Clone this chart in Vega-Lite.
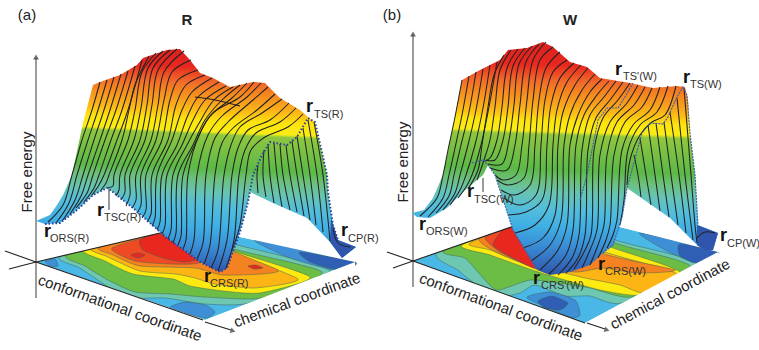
{"$schema":"https://vega.github.io/schema/vega-lite/v6.json","width":759,"height":350,"padding":0,"autosize":{"type":"none"},"background":"white","view":{"stroke":null},
"config":{"text":{"font":"Liberation Sans"}},
"encoding":{"x":{"field":"x","type":"quantitative","scale":{"domain":[0,759],"nice":false,"zero":false},"axis":null},"y":{"field":"y","type":"quantitative","scale":{"domain":[350,0],"nice":false,"zero":false},"axis":null}},
"datasets":{
"floor":[
{"s":"a0","c":"cyan","x":36,"y":262},{"s":"a0","c":"cyan","x":189,"y":226},{"s":"a0","c":"cyan","x":355,"y":262},{"s":"a0","c":"cyan","x":205,"y":320},
{"s":"a1","c":"teal","x":62,"y":256},{"s":"a1","c":"teal","x":189,"y":226},{"s":"a1","c":"teal","x":230,"y":243},{"s":"a1","c":"teal","x":330,"y":271},{"s":"a1","c":"teal","x":250,"y":303},{"s":"a1","c":"teal","x":205,"y":304},{"s":"a1","c":"teal","x":165,"y":298},{"s":"a1","c":"teal","x":130,"y":298},{"s":"a1","c":"teal","x":110,"y":288},{"s":"a1","c":"teal","x":80,"y":268},
{"s":"a2","c":"green","x":68,"y":254},{"s":"a2","c":"green","x":189,"y":226},{"s":"a2","c":"green","x":226,"y":247},{"s":"a2","c":"green","x":322,"y":272},{"s":"a2","c":"green","x":262,"y":298},{"s":"a2","c":"green","x":205,"y":297},{"s":"a2","c":"green","x":170,"y":294},{"s":"a2","c":"green","x":135,"y":292},{"s":"a2","c":"green","x":108,"y":280},{"s":"a2","c":"green","x":85,"y":266},
{"s":"a3","c":"yellow","x":85,"y":249},{"s":"a3","c":"yellow","x":189,"y":226},{"s":"a3","c":"yellow","x":225,"y":248},{"s":"a3","c":"yellow","x":310,"y":277},{"s":"a3","c":"yellow","x":260,"y":293},{"s":"a3","c":"yellow","x":223,"y":291},{"s":"a3","c":"yellow","x":190,"y":286},{"s":"a3","c":"yellow","x":173,"y":279},{"s":"a3","c":"yellow","x":133,"y":274},{"s":"a3","c":"yellow","x":105,"y":261},
{"s":"a4","c":"amber","x":92,"y":247},{"s":"a4","c":"amber","x":189,"y":226},{"s":"a4","c":"amber","x":225,"y":250},{"s":"a4","c":"amber","x":298,"y":279},{"s":"a4","c":"amber","x":255,"y":288},{"s":"a4","c":"amber","x":215,"y":284},{"s":"a4","c":"amber","x":195,"y":278},{"s":"a4","c":"amber","x":175,"y":274},{"s":"a4","c":"amber","x":140,"y":271},{"s":"a4","c":"amber","x":108,"y":257},
{"s":"a5","c":"orange","x":100,"y":247},{"s":"a5","c":"orange","x":189,"y":226},{"s":"a5","c":"orange","x":230,"y":250},{"s":"a5","c":"orange","x":278,"y":270},{"s":"a5","c":"orange","x":262,"y":274},{"s":"a5","c":"orange","x":222,"y":275},{"s":"a5","c":"orange","x":195,"y":268},{"s":"a5","c":"orange","x":140,"y":266},{"s":"a5","c":"orange","x":113,"y":255},
{"s":"a6","c":"redorange","x":112,"y":248},{"s":"a6","c":"redorange","x":170,"y":233},{"s":"a6","c":"redorange","x":200,"y":262},{"s":"a6","c":"redorange","x":170,"y":264},{"s":"a6","c":"redorange","x":135,"y":261},
{"s":"a7","c":"red","x":140,"y":240},{"s":"a7","c":"red","x":160,"y":234},{"s":"a7","c":"red","x":197,"y":258},{"s":"a7","c":"red","x":183,"y":262},{"s":"a7","c":"red","x":163,"y":258},{"s":"a7","c":"red","x":143,"y":250},
{"s":"a8","c":"red","x":131,"y":255},{"s":"a8","c":"red","x":138,"y":253},{"s":"a8","c":"red","x":145,"y":255},{"s":"a8","c":"red","x":138,"y":258},
{"s":"a9","c":"red","x":248,"y":266},{"s":"a9","c":"red","x":256,"y":265},{"s":"a9","c":"red","x":263,"y":268},{"s":"a9","c":"red","x":254,"y":269},
{"s":"a10","c":"blue","x":170,"y":308},{"s":"a10","c":"blue","x":185,"y":302},{"s":"a10","c":"blue","x":205,"y":305},{"s":"a10","c":"blue","x":215,"y":312},{"s":"a10","c":"blue","x":205,"y":318},
{"s":"a11","c":"blue","x":255,"y":240},{"s":"a11","c":"blue","x":355,"y":262},{"s":"a11","c":"blue","x":335,"y":270},{"s":"a11","c":"blue","x":290,"y":258},
{"s":"a12","c":"navy","x":300,"y":252},{"s":"a12","c":"navy","x":355,"y":262},{"s":"a12","c":"navy","x":335,"y":269},{"s":"a12","c":"navy","x":310,"y":262},
{"s":"a13","c":"blue","x":45,"y":261},{"s":"a13","c":"blue","x":55,"y":259},{"s":"a13","c":"blue","x":58,"y":266},{"s":"a13","c":"blue","x":50,"y":266},
{"s":"b0","c":"cyan","x":413,"y":261},{"s":"b0","c":"cyan","x":557,"y":211},{"s":"b0","c":"cyan","x":718,"y":252},{"s":"b0","c":"cyan","x":697,"y":263},{"s":"b0","c":"cyan","x":585,"y":323},
{"s":"b1","c":"teal","x":438,"y":252},{"s":"b1","c":"teal","x":557,"y":211},{"s":"b1","c":"teal","x":615,"y":240},{"s":"b1","c":"teal","x":697,"y":264},{"s":"b1","c":"teal","x":622,"y":303},{"s":"b1","c":"teal","x":590,"y":296},{"s":"b1","c":"teal","x":565,"y":296},{"s":"b1","c":"teal","x":535,"y":285},{"s":"b1","c":"teal","x":520,"y":293},{"s":"b1","c":"teal","x":495,"y":297},{"s":"b1","c":"teal","x":470,"y":280},{"s":"b1","c":"teal","x":458,"y":270},
{"s":"b2","c":"green","x":445,"y":250},{"s":"b2","c":"green","x":557,"y":211},{"s":"b2","c":"green","x":612,"y":242},{"s":"b2","c":"green","x":690,"y":266},{"s":"b2","c":"green","x":632,"y":297},{"s":"b2","c":"green","x":590,"y":288},{"s":"b2","c":"green","x":565,"y":284},{"s":"b2","c":"green","x":530,"y":280},{"s":"b2","c":"green","x":497,"y":290},{"s":"b2","c":"green","x":478,"y":272},{"s":"b2","c":"green","x":465,"y":258},
{"s":"b3","c":"yellow","x":462,"y":245},{"s":"b3","c":"yellow","x":545,"y":215},{"s":"b3","c":"yellow","x":605,"y":245},{"s":"b3","c":"yellow","x":680,"y":272},{"s":"b3","c":"yellow","x":640,"y":295},{"s":"b3","c":"yellow","x":600,"y":290},{"s":"b3","c":"yellow","x":565,"y":280},{"s":"b3","c":"yellow","x":535,"y":271},{"s":"b3","c":"yellow","x":490,"y":255},
{"s":"b4","c":"amber","x":470,"y":243},{"s":"b4","c":"amber","x":548,"y":215},{"s":"b4","c":"amber","x":600,"y":250},{"s":"b4","c":"amber","x":677,"y":274},{"s":"b4","c":"amber","x":645,"y":293},{"s":"b4","c":"amber","x":620,"y":285},{"s":"b4","c":"amber","x":585,"y":278},{"s":"b4","c":"amber","x":560,"y":272},{"s":"b4","c":"amber","x":537,"y":268},{"s":"b4","c":"amber","x":490,"y":250},
{"s":"b5","c":"orange","x":480,"y":238},{"s":"b5","c":"orange","x":550,"y":215},{"s":"b5","c":"orange","x":598,"y":252},{"s":"b5","c":"orange","x":675,"y":270},{"s":"b5","c":"orange","x":637,"y":273},{"s":"b5","c":"orange","x":603,"y":268},{"s":"b5","c":"orange","x":577,"y":272},{"s":"b5","c":"orange","x":537,"y":268},{"s":"b5","c":"orange","x":500,"y":254},
{"s":"b6","c":"redorange","x":485,"y":238},{"s":"b6","c":"redorange","x":503,"y":230},{"s":"b6","c":"redorange","x":537,"y":268},{"s":"b6","c":"redorange","x":500,"y":252},
{"s":"b7","c":"red","x":503,"y":230},{"s":"b7","c":"red","x":517,"y":225},{"s":"b7","c":"red","x":537,"y":268},{"s":"b7","c":"red","x":513,"y":258},{"s":"b7","c":"red","x":493,"y":245},
{"s":"b8","c":"blue","x":527,"y":298},{"s":"b8","c":"blue","x":550,"y":292},{"s":"b8","c":"blue","x":575,"y":300},{"s":"b8","c":"blue","x":580,"y":315},{"s":"b8","c":"blue","x":570,"y":317},
{"s":"b9","c":"navy","x":538,"y":301},{"s":"b9","c":"navy","x":552,"y":296},{"s":"b9","c":"navy","x":568,"y":303},{"s":"b9","c":"navy","x":560,"y":310},{"s":"b9","c":"navy","x":545,"y":308},
{"s":"b10","c":"blue","x":640,"y":233},{"s":"b10","c":"blue","x":718,"y":252},{"s":"b10","c":"blue","x":697,"y":263},{"s":"b10","c":"blue","x":665,"y":250},
{"s":"b11","c":"navy","x":680,"y":244},{"s":"b11","c":"navy","x":718,"y":252},{"s":"b11","c":"navy","x":697,"y":263},{"s":"b11","c":"navy","x":680,"y":256}
],
"mask":[
{"s":"m1","x":36,"y":262},{"s":"m1","x":189,"y":226},{"s":"m1","x":189,"y":214},{"s":"m1","x":36,"y":250},
{"s":"m2","x":189,"y":226},{"s":"m2","x":355,"y":262},{"s":"m2","x":355,"y":250},{"s":"m2","x":189,"y":214},
{"s":"m3","x":36,"y":262},{"s":"m3","x":205,"y":320},{"s":"m3","x":205,"y":332},{"s":"m3","x":36,"y":274},
{"s":"m4","x":205,"y":320},{"s":"m4","x":355,"y":262},{"s":"m4","x":355,"y":274},{"s":"m4","x":205,"y":332},
{"s":"m5","x":413,"y":261},{"s":"m5","x":557,"y":211},{"s":"m5","x":557,"y":199},{"s":"m5","x":413,"y":249},
{"s":"m6","x":557,"y":211},{"s":"m6","x":718,"y":252},{"s":"m6","x":718,"y":240},{"s":"m6","x":557,"y":199},
{"s":"m7","x":413,"y":261},{"s":"m7","x":585,"y":323},{"s":"m7","x":585,"y":335},{"s":"m7","x":413,"y":273},
{"s":"m8","x":585,"y":323},{"s":"m8","x":697,"y":263},{"s":"m8","x":718,"y":252},{"s":"m8","x":725,"y":262},{"s":"m8","x":590,"y":335}
],
"patch":[
{"s":"a","x":331,"y":218},{"s":"a","x":338,"y":240},{"s":"a","x":356,"y":247},{"s":"a","x":342,"y":258},{"s":"a","x":330,"y":242},
{"s":"b","x":697,"y":225},{"s":"b","x":718,"y":233},{"s":"b","x":713,"y":250},{"s":"b","x":705,"y":251},{"s":"b","x":697,"y":245}
],
"surfA":[{"x":36,"y":221},{"x":50,"y":215},{"x":57,"y":205},{"x":63,"y":195},{"x":72,"y":175},{"x":83,"y":123},{"x":93,"y":85},{"x":100,"y":82},{"x":120,"y":75},{"x":137,"y":65},{"x":143,"y":58},{"x":167,"y":50},{"x":180,"y":49},{"x":190,"y":60},{"x":200,"y":73},{"x":213,"y":78},{"x":230,"y":87},{"x":253,"y":82},{"x":265,"y":83},{"x":280,"y":98},{"x":300,"y":110},{"x":308,"y":117},{"x":315,"y":122},{"x":323,"y":157},{"x":327,"y":175},{"x":328,"y":192},{"x":333,"y":225},{"x":338,"y":240},{"x":356,"y":247},{"x":342,"y":258},{"x":330,"y":242},{"x":307,"y":218},{"x":273,"y":203},{"x":250,"y":192},{"x":248,"y":202},{"x":240,"y":232},{"x":227,"y":268},{"x":220,"y":272},{"x":212,"y":268},{"x":200,"y":262},{"x":167,"y":238},{"x":133,"y":208},{"x":113,"y":192},{"x":107,"y":188},{"x":93,"y":195},{"x":77,"y":210},{"x":60,"y":223},{"x":45,"y":224}],
"surfB":[{"x":412,"y":213},{"x":424,"y":210},{"x":433,"y":198},{"x":443,"y":175},{"x":455,"y":117},{"x":462,"y":80},{"x":480,"y":70},{"x":500,"y":60},{"x":508,"y":50},{"x":527,"y":48},{"x":543,"y":42},{"x":553,"y":47},{"x":570,"y":62},{"x":587,"y":67},{"x":600,"y":78},{"x":630,"y":83},{"x":653,"y":88},{"x":677,"y":86},{"x":685,"y":87},{"x":688,"y":100},{"x":690,"y":133},{"x":695,"y":175},{"x":698,"y":225},{"x":718,"y":233},{"x":713,"y":250},{"x":705,"y":251},{"x":697,"y":245},{"x":670,"y":218},{"x":627,"y":188},{"x":622,"y":218},{"x":613,"y":245},{"x":603,"y":253},{"x":590,"y":265},{"x":570,"y":272},{"x":550,"y":275},{"x":537,"y":270},{"x":513,"y":230},{"x":495,"y":175},{"x":488,"y":165},{"x":483,"y":175},{"x":463,"y":192},{"x":447,"y":208},{"x":430,"y":218},{"x":417,"y":217}],
"slices":[
{"s":"a0","x":100,"y":82},{"s":"a0","x":92,"y":110},{"s":"a0","x":82,"y":140},{"s":"a0","x":72,"y":175},{"s":"a0","x":63,"y":205},{"s":"a0","x":48,"y":222},
{"s":"a1","x":107,"y":80},{"s":"a1","x":98,"y":110},{"s":"a1","x":88,"y":140},{"s":"a1","x":77,"y":175},{"s":"a1","x":69,"y":203},{"s":"a1","x":56,"y":223},
{"s":"a2","x":114,"y":77},{"s":"a2","x":104,"y":110},{"s":"a2","x":94,"y":140},{"s":"a2","x":83,"y":175},{"s":"a2","x":75,"y":200},{"s":"a2","x":63,"y":220},
{"s":"a3","x":121,"y":74},{"s":"a3","x":110,"y":110},{"s":"a3","x":100,"y":140},{"s":"a3","x":88,"y":175},{"s":"a3","x":81,"y":196},{"s":"a3","x":70,"y":214},
{"s":"a4","x":128,"y":71},{"s":"a4","x":116,"y":110},{"s":"a4","x":105,"y":140},{"s":"a4","x":93,"y":175},{"s":"a4","x":87,"y":193},{"s":"a4","x":76,"y":208},
{"s":"a5","x":135,"y":66},{"s":"a5","x":122,"y":110},{"s":"a5","x":111,"y":140},{"s":"a5","x":99,"y":175},{"s":"a5","x":94,"y":188},{"s":"a5","x":84,"y":202},
{"s":"a6","x":142,"y":60},{"s":"a6","x":128,"y":110},{"s":"a6","x":117,"y":140},{"s":"a6","x":104,"y":175},{"s":"a6","x":99,"y":185},{"s":"a6","x":92,"y":195},
{"s":"a7","x":149,"y":56},{"s":"a7","x":135,"y":85},{"s":"a7","x":129,"y":110},{"s":"a7","x":122,"y":140},{"s":"a7","x":109,"y":175},{"s":"a7","x":106,"y":183},{"s":"a7","x":101,"y":190},
{"s":"a8","x":156,"y":53},{"s":"a8","x":142,"y":72},{"s":"a8","x":135,"y":110},{"s":"a8","x":128,"y":140},{"s":"a8","x":114,"y":175},{"s":"a8","x":113,"y":186},{"s":"a8","x":108,"y":188},
{"s":"a9","x":163,"y":51},{"s":"a9","x":148,"y":68},{"s":"a9","x":141,"y":108},{"s":"a9","x":134,"y":140},{"s":"a9","x":120,"y":175},{"s":"a9","x":119,"y":190},{"s":"a9","x":116,"y":196},
{"s":"a10","x":170,"y":50},{"s":"a10","x":153,"y":68},{"s":"a10","x":147,"y":105},{"s":"a10","x":140,"y":140},{"s":"a10","x":125,"y":175},{"s":"a10","x":125,"y":192},{"s":"a10","x":121,"y":200},
{"s":"a11","x":177,"y":49},{"s":"a11","x":158,"y":70},{"s":"a11","x":152,"y":105},{"s":"a11","x":145,"y":140},{"s":"a11","x":130,"y":175},{"s":"a11","x":130,"y":195},{"s":"a11","x":126,"y":206},
{"s":"a12","x":184,"y":51},{"s":"a12","x":164,"y":72},{"s":"a12","x":158,"y":105},{"s":"a12","x":151,"y":140},{"s":"a12","x":136,"y":175},{"s":"a12","x":136,"y":200},{"s":"a12","x":132,"y":208},
{"s":"a13","x":191,"y":60},{"s":"a13","x":172,"y":72},{"s":"a13","x":164,"y":100},{"s":"a13","x":156,"y":140},{"s":"a13","x":141,"y":175},{"s":"a13","x":141,"y":205},{"s":"a13","x":137,"y":213},
{"s":"a14","x":198,"y":70},{"s":"a14","x":178,"y":80},{"s":"a14","x":170,"y":100},{"s":"a14","x":162,"y":140},{"s":"a14","x":146,"y":175},{"s":"a14","x":146,"y":210},{"s":"a14","x":142,"y":218},
{"s":"a15","x":205,"y":75},{"s":"a15","x":186,"y":85},{"s":"a15","x":176,"y":105},{"s":"a15","x":168,"y":140},{"s":"a15","x":152,"y":175},{"s":"a15","x":151,"y":214},{"s":"a15","x":147,"y":222},
{"s":"a16","x":212,"y":78},{"s":"a16","x":192,"y":92},{"s":"a16","x":182,"y":110},{"s":"a16","x":172,"y":140},{"s":"a16","x":157,"y":175},{"s":"a16","x":155,"y":218},{"s":"a16","x":152,"y":226},
{"s":"a17","x":219,"y":82},{"s":"a17","x":198,"y":97},{"s":"a17","x":188,"y":115},{"s":"a17","x":177,"y":145},{"s":"a17","x":162,"y":175},{"s":"a17","x":160,"y":222},{"s":"a17","x":157,"y":230},
{"s":"a18","x":226,"y":86},{"s":"a18","x":205,"y":100},{"s":"a18","x":193,"y":120},{"s":"a18","x":182,"y":145},{"s":"a18","x":167,"y":175},{"s":"a18","x":165,"y":226},{"s":"a18","x":162,"y":234},
{"s":"a19","x":233,"y":87},{"s":"a19","x":214,"y":100},{"s":"a19","x":198,"y":125},{"s":"a19","x":187,"y":145},{"s":"a19","x":173,"y":175},{"s":"a19","x":171,"y":230},{"s":"a19","x":168,"y":239},
{"s":"a20","x":240,"y":85},{"s":"a20","x":222,"y":100},{"s":"a20","x":205,"y":120},{"s":"a20","x":193,"y":145},{"s":"a20","x":178,"y":175},{"s":"a20","x":176,"y":233},{"s":"a20","x":173,"y":243},
{"s":"a21","x":247,"y":83},{"s":"a21","x":232,"y":98},{"s":"a21","x":210,"y":116},{"s":"a21","x":197,"y":140},{"s":"a21","x":183,"y":175},{"s":"a21","x":181,"y":236},{"s":"a21","x":178,"y":245},
{"s":"a22","x":254,"y":82},{"s":"a22","x":240,"y":97},{"s":"a22","x":213,"y":113},{"s":"a22","x":200,"y":133},{"s":"a22","x":188,"y":175},{"s":"a22","x":186,"y":240},{"s":"a22","x":183,"y":249},
{"s":"a23","x":261,"y":83},{"s":"a23","x":247,"y":97},{"s":"a23","x":222,"y":116},{"s":"a23","x":208,"y":135},{"s":"a23","x":197,"y":175},{"s":"a23","x":194,"y":240},{"s":"a23","x":190,"y":254},
{"s":"a24","x":268,"y":87},{"s":"a24","x":253,"y":100},{"s":"a24","x":228,"y":122},{"s":"a24","x":215,"y":138},{"s":"a24","x":206,"y":175},{"s":"a24","x":203,"y":243},{"s":"a24","x":197,"y":259},
{"s":"a25","x":275,"y":94},{"s":"a25","x":257,"y":110},{"s":"a25","x":233,"y":128},{"s":"a25","x":222,"y":143},{"s":"a25","x":215,"y":175},{"s":"a25","x":210,"y":245},{"s":"a25","x":204,"y":264},
{"s":"a26","x":282,"y":99},{"s":"a26","x":262,"y":113},{"s":"a26","x":240,"y":127},{"s":"a26","x":231,"y":145},{"s":"a26","x":224,"y":175},{"s":"a26","x":218,"y":250},{"s":"a26","x":211,"y":268},
{"s":"a27","x":289,"y":103},{"s":"a27","x":270,"y":120},{"s":"a27","x":248,"y":130},{"s":"a27","x":238,"y":148},{"s":"a27","x":232,"y":175},{"s":"a27","x":227,"y":240},{"s":"a27","x":218,"y":271},
{"s":"a28","x":296,"y":108},{"s":"a28","x":280,"y":122},{"s":"a28","x":256,"y":133},{"s":"a28","x":245,"y":150},{"s":"a28","x":239,"y":175},{"s":"a28","x":234,"y":240},{"s":"a28","x":226,"y":268},
{"s":"a29","x":303,"y":114},{"s":"a29","x":288,"y":127},{"s":"a29","x":265,"y":137},{"s":"a29","x":251,"y":150},{"s":"a29","x":246,"y":175},{"s":"a29","x":240,"y":225},{"s":"a29","x":232,"y":250},
{"s":"ac","x":195,"y":97},{"s":"ac","x":215,"y":100},{"s":"ac","x":240,"y":106},
{"s":"aw1","x":258,"y":165},{"s":"aw1","x":257,"y":175},{"s":"aw1","x":258,"y":193},
{"s":"aw2","x":264,"y":150},{"s":"aw2","x":263,"y":175},{"s":"aw2","x":266,"y":197},
{"s":"aw3","x":268,"y":144},{"s":"aw3","x":270,"y":175},{"s":"aw3","x":274,"y":203},
{"s":"aw4","x":274,"y":143},{"s":"aw4","x":277,"y":175},{"s":"aw4","x":282,"y":207},
{"s":"aw5","x":280,"y":144},{"s":"aw5","x":283,"y":175},{"s":"aw5","x":290,"y":210},
{"s":"aw6","x":286,"y":145},{"s":"aw6","x":290,"y":175},{"s":"aw6","x":297,"y":212},
{"s":"aw7","x":292,"y":141},{"s":"aw7","x":297,"y":175},{"s":"aw7","x":304,"y":216},
{"s":"aw8","x":297,"y":136},{"s":"aw8","x":303,"y":175},{"s":"aw8","x":310,"y":220},
{"s":"aw9","x":303,"y":128},{"s":"aw9","x":310,"y":175},{"s":"aw9","x":316,"y":225},
{"s":"aw10","x":308,"y":120},{"s":"aw10","x":317,"y":175},{"s":"aw10","x":323,"y":232},
{"s":"aw11","x":314,"y":122},{"s":"aw11","x":323,"y":175},{"s":"aw11","x":330,"y":241},
{"s":"aw12","x":333,"y":228},{"s":"aw12","x":338,"y":243},{"s":"aw12","x":350,"y":247},
{"s":"b0","x":462,"y":80},{"s":"b0","x":455,"y":117},{"s":"b0","x":448,"y":150},{"s":"b0","x":443,"y":175},{"s":"b0","x":437,"y":198},{"s":"b0","x":420,"y":216},
{"s":"b1","x":469,"y":76},{"s":"b1","x":462,"y":115},{"s":"b1","x":455,"y":148},{"s":"b1","x":449,"y":175},{"s":"b1","x":443,"y":198},{"s":"b1","x":428,"y":217},
{"s":"b2","x":476,"y":72},{"s":"b2","x":469,"y":112},{"s":"b2","x":461,"y":145},{"s":"b2","x":454,"y":175},{"s":"b2","x":449,"y":196},{"s":"b2","x":436,"y":213},
{"s":"b3","x":483,"y":69},{"s":"b3","x":476,"y":110},{"s":"b3","x":468,"y":145},{"s":"b3","x":460,"y":175},{"s":"b3","x":455,"y":193},{"s":"b3","x":443,"y":210},
{"s":"b4","x":490,"y":65},{"s":"b4","x":483,"y":108},{"s":"b4","x":475,"y":145},{"s":"b4","x":466,"y":175},{"s":"b4","x":460,"y":190},{"s":"b4","x":450,"y":205},
{"s":"b5","x":497,"y":62},{"s":"b5","x":489,"y":107},{"s":"b5","x":481,"y":145},{"s":"b5","x":472,"y":175},{"s":"b5","x":466,"y":187},{"s":"b5","x":458,"y":198},
{"s":"b6","x":504,"y":55},{"s":"b6","x":494,"y":75},{"s":"b6","x":488,"y":107},{"s":"b6","x":482,"y":145},{"s":"b6","x":478,"y":170},{"s":"b6","x":468,"y":189},
{"s":"b7","x":511,"y":50},{"s":"b7","x":500,"y":70},{"s":"b7","x":495,"y":107},{"s":"b7","x":490,"y":140},{"s":"b7","x":484,"y":160},{"s":"b7","x":477,"y":180},
{"s":"b8","x":518,"y":49},{"s":"b8","x":507,"y":68},{"s":"b8","x":502,"y":107},{"s":"b8","x":497,"y":140},{"s":"b8","x":490,"y":158},{"s":"b8","x":483,"y":162},
{"s":"b9","x":525,"y":48},{"s":"b9","x":513,"y":66},{"s":"b9","x":508,"y":107},{"s":"b9","x":503,"y":140},{"s":"b9","x":495,"y":160},{"s":"b9","x":486,"y":160},
{"s":"b10","x":532,"y":46},{"s":"b10","x":519,"y":64},{"s":"b10","x":514,"y":105},{"s":"b10","x":509,"y":140},{"s":"b10","x":502,"y":164},{"s":"b10","x":488,"y":164},
{"s":"b11","x":539,"y":44},{"s":"b11","x":526,"y":62},{"s":"b11","x":520,"y":105},{"s":"b11","x":515,"y":145},{"s":"b11","x":507,"y":170},{"s":"b11","x":490,"y":168},
{"s":"b12","x":546,"y":42},{"s":"b12","x":533,"y":60},{"s":"b12","x":527,"y":100},{"s":"b12","x":522,"y":145},{"s":"b12","x":516,"y":175},{"s":"b12","x":503,"y":180},{"s":"b12","x":495,"y":175},
{"s":"b13","x":553,"y":47},{"s":"b13","x":540,"y":60},{"s":"b13","x":533,"y":100},{"s":"b13","x":529,"y":145},{"s":"b13","x":524,"y":178},{"s":"b13","x":508,"y":185},{"s":"b13","x":497,"y":180},
{"s":"b14","x":560,"y":52},{"s":"b14","x":546,"y":68},{"s":"b14","x":539,"y":100},{"s":"b14","x":535,"y":145},{"s":"b14","x":530,"y":185},{"s":"b14","x":514,"y":195},{"s":"b14","x":501,"y":190},
{"s":"b15","x":567,"y":60},{"s":"b15","x":553,"y":72},{"s":"b15","x":545,"y":100},{"s":"b15","x":541,"y":145},{"s":"b15","x":536,"y":195},{"s":"b15","x":520,"y":205},{"s":"b15","x":504,"y":198},
{"s":"b16","x":574,"y":63},{"s":"b16","x":560,"y":78},{"s":"b16","x":551,"y":105},{"s":"b16","x":547,"y":145},{"s":"b16","x":542,"y":200},{"s":"b16","x":526,"y":212},{"s":"b16","x":508,"y":215},
{"s":"b17","x":581,"y":65},{"s":"b17","x":567,"y":82},{"s":"b17","x":557,"y":110},{"s":"b17","x":553,"y":145},{"s":"b17","x":549,"y":205},{"s":"b17","x":535,"y":225},{"s":"b17","x":515,"y":233},
{"s":"b18","x":588,"y":68},{"s":"b18","x":575,"y":85},{"s":"b18","x":563,"y":112},{"s":"b18","x":558,"y":145},{"s":"b18","x":555,"y":215},{"s":"b18","x":543,"y":238},{"s":"b18","x":523,"y":248},
{"s":"b19","x":595,"y":74},{"s":"b19","x":582,"y":90},{"s":"b19","x":570,"y":115},{"s":"b19","x":564,"y":145},{"s":"b19","x":561,"y":220},{"s":"b19","x":550,"y":245},{"s":"b19","x":531,"y":261},
{"s":"b20","x":602,"y":79},{"s":"b20","x":590,"y":92},{"s":"b20","x":578,"y":115},{"s":"b20","x":570,"y":145},{"s":"b20","x":567,"y":225},{"s":"b20","x":558,"y":250},{"s":"b20","x":540,"y":270},
{"s":"b21","x":609,"y":81},{"s":"b21","x":597,"y":95},{"s":"b21","x":584,"y":115},{"s":"b21","x":576,"y":145},{"s":"b21","x":573,"y":230},{"s":"b21","x":566,"y":255},{"s":"b21","x":549,"y":274},
{"s":"b22","x":616,"y":81},{"s":"b22","x":604,"y":97},{"s":"b22","x":590,"y":115},{"s":"b22","x":582,"y":150},{"s":"b22","x":579,"y":235},{"s":"b22","x":572,"y":258},{"s":"b22","x":558,"y":275},
{"s":"b23","x":623,"y":82},{"s":"b23","x":610,"y":100},{"s":"b23","x":596,"y":118},{"s":"b23","x":588,"y":150},{"s":"b23","x":585,"y":235},{"s":"b23","x":578,"y":258},{"s":"b23","x":566,"y":273},
{"s":"b24","x":630,"y":83},{"s":"b24","x":618,"y":100},{"s":"b24","x":603,"y":118},{"s":"b24","x":594,"y":150},{"s":"b24","x":591,"y":235},{"s":"b24","x":584,"y":252},{"s":"b24","x":574,"y":269},
{"s":"b25","x":638,"y":85},{"s":"b25","x":627,"y":103},{"s":"b25","x":610,"y":122},{"s":"b25","x":600,"y":155},{"s":"b25","x":597,"y":230},{"s":"b25","x":590,"y":250},{"s":"b25","x":582,"y":268},
{"s":"b26","x":645,"y":87},{"s":"b26","x":634,"y":105},{"s":"b26","x":617,"y":122},{"s":"b26","x":607,"y":155},{"s":"b26","x":604,"y":225},{"s":"b26","x":598,"y":245},{"s":"b26","x":590,"y":265},
{"s":"b27","x":652,"y":88},{"s":"b27","x":642,"y":107},{"s":"b27","x":625,"y":122},{"s":"b27","x":614,"y":155},{"s":"b27","x":610,"y":225},{"s":"b27","x":606,"y":240},{"s":"b27","x":598,"y":258},
{"s":"b28","x":660,"y":87},{"s":"b28","x":650,"y":110},{"s":"b28","x":633,"y":125},{"s":"b28","x":622,"y":150},{"s":"b28","x":617,"y":220},{"s":"b28","x":613,"y":235},{"s":"b28","x":607,"y":248},
{"s":"b29","x":668,"y":86},{"s":"b29","x":657,"y":112},{"s":"b29","x":640,"y":125},{"s":"b29","x":628,"y":150},{"s":"b29","x":624,"y":200},{"s":"b29","x":620,"y":225},
{"s":"b30","x":676,"y":86},{"s":"b30","x":665,"y":115},{"s":"b30","x":652,"y":122},{"s":"b30","x":640,"y":135},{"s":"b30","x":630,"y":160},{"s":"b30","x":627,"y":185},
{"s":"bw1","x":634,"y":155},{"s":"bw1","x":638,"y":175},{"s":"bw1","x":641,"y":197},
{"s":"bw2","x":640,"y":138},{"s":"bw2","x":646,"y":175},{"s":"bw2","x":651,"y":205},
{"s":"bw3","x":648,"y":125},{"s":"bw3","x":655,"y":175},{"s":"bw3","x":660,"y":211},
{"s":"bw4","x":656,"y":123},{"s":"bw4","x":663,"y":175},{"s":"bw4","x":669,"y":217},
{"s":"bw5","x":664,"y":122},{"s":"bw5","x":671,"y":175},{"s":"bw5","x":678,"y":225},
{"s":"bw6","x":670,"y":112},{"s":"bw6","x":679,"y":175},{"s":"bw6","x":686,"y":233},
{"s":"bw7","x":677,"y":98},{"s":"bw7","x":685,"y":175},{"s":"bw7","x":693,"y":240},
{"s":"bw8","x":684,"y":88},{"s":"bw8","x":691,"y":175},{"s":"bw8","x":695,"y":225},{"s":"bw8","x":697,"y":243},
{"s":"bw9","x":697,"y":238},{"s":"bw9","x":705,"y":232},{"s":"bw9","x":715,"y":233}
],
"dotsA":[
{"s":"a1","x":45,"y":224},{"s":"a1","x":60,"y":223},{"s":"a1","x":77,"y":210},{"s":"a1","x":93,"y":195},{"s":"a1","x":107,"y":188},{"s":"a1","x":113,"y":192},{"s":"a1","x":133,"y":208},{"s":"a1","x":167,"y":238},{"s":"a1","x":200,"y":262},{"s":"a1","x":212,"y":268},{"s":"a1","x":220,"y":272},{"s":"a1","x":227,"y":268},{"s":"a1","x":240,"y":232},{"s":"a1","x":248,"y":202},{"s":"a1","x":253,"y":175},{"s":"a1","x":262,"y":155},{"s":"a1","x":270,"y":142},{"s":"a1","x":287,"y":145},{"s":"a1","x":297,"y":137},{"s":"a1","x":308,"y":118},{"s":"a1","x":315,"y":122},{"s":"a1","x":323,"y":157},{"s":"a1","x":327,"y":175},{"s":"a1","x":328,"y":192},{"s":"a1","x":333,"y":225},{"s":"a1","x":338,"y":240}
],
"dotsB":[
{"s":"b1","x":472,"y":163},{"s":"b1","x":483,"y":160},{"s":"b1","x":488,"y":165},{"s":"b1","x":495,"y":175},{"s":"b1","x":513,"y":230},{"s":"b1","x":537,"y":270},
{"s":"b2","x":603,"y":253},{"s":"b2","x":613,"y":245},{"s":"b2","x":622,"y":218},{"s":"b2","x":627,"y":188},{"s":"b2","x":642,"y":133},{"s":"b2","x":650,"y":123},{"s":"b2","x":663,"y":124},{"s":"b2","x":668,"y":117},{"s":"b2","x":677,"y":97},{"s":"b2","x":683,"y":87},{"s":"b2","x":687,"y":95},{"s":"b2","x":690,"y":133},{"s":"b2","x":695,"y":175},{"s":"b2","x":698,"y":225},
{"s":"b3","x":633,"y":83},{"s":"b3","x":625,"y":97},{"s":"b3","x":618,"y":108},{"s":"b3","x":607,"y":108},{"s":"b3","x":598,"y":120},{"s":"b3","x":587,"y":175},{"s":"b3","x":580,"y":200}
],
"edges":[
{"s":"e1","x":5,"y":251},{"s":"e1","x":36,"y":262},{"s":"e1","x":203,"y":320},
{"s":"e2","x":9,"y":269},{"s":"e2","x":36,"y":262},{"s":"e2","x":160,"y":233},
{"s":"e3","x":205,"y":322},{"s":"e3","x":231,"y":330},
{"s":"e4","x":387,"y":252},{"s":"e4","x":413,"y":261},{"s":"e4","x":585,"y":323},
{"s":"e5","x":393,"y":268},{"s":"e5","x":413,"y":261},{"s":"e5","x":517,"y":225},
{"s":"e6","x":587,"y":323},{"s":"e6","x":605,"y":329}
],
"axes":[
{"s":"a","x":36,"y":298},{"s":"a","x":36,"y":58},
{"s":"b","x":413,"y":287},{"s":"b","x":413,"y":35},
{"s":"t1","x":109,"y":188},{"s":"t1","x":109,"y":210},
{"s":"t2","x":483,"y":178},{"s":"t2","x":483,"y":192}
],
"heads":[{"x":36,"y":57,"a":0},{"x":413,"y":34,"a":0},{"x":233,"y":331,"a":108},{"x":607,"y":330,"a":108}],
"rs":[{"x":306,"y":107,"t":"r"},{"x":97,"y":211,"t":"r"},{"x":44,"y":232,"t":"r"},{"x":204,"y":277,"t":"r"},{"x":341,"y":231,"t":"r"},{"x":419,"y":225,"t":"r"},{"x":467,"y":192,"t":"r"},{"x":533,"y":279,"t":"r"},{"x":598,"y":265,"t":"r"},{"x":615,"y":70,"t":"r"},{"x":683,"y":78,"t":"r"},{"x":720,"y":236,"t":"r"}],
"subs":[{"x":314,"y":115,"t":"TS(R)"},{"x":104,"y":218,"t":"TSC(R)"},{"x":50,"y":239,"t":"ORS(R)"},{"x":210,"y":284,"t":"CRS(R)"},{"x":348,"y":239,"t":"CP(R)"},{"x":426,"y":232,"t":"ORS(W)"},{"x":474,"y":200,"t":"TSC(W)"},{"x":541,"y":286,"t":"CRS'(W)"},{"x":605,"y":272,"t":"CRS(W)"},{"x":623,"y":77,"t":"TS'(W)"},{"x":690,"y":85,"t":"TS(W)"},{"x":727,"y":244,"t":"CP(W)"}],
"titles":[{"x":187,"y":20,"t":"R"},{"x":570,"y":20,"t":"W"}],
"panels":[{"x":27,"y":15,"t":"(a)"},{"x":392,"y":15,"t":"(b)"}],
"axtext":[{"x":27,"y":172,"t":"Free energy","a":-90},{"x":403,"y":162,"t":"Free energy","a":-90},{"x":120,"y":308,"t":"conformational coordinate","a":19.5},{"x":297,"y":300,"t":"chemical coordinate","a":-20},{"x":501,"y":307,"t":"conformational coordinate","a":20},{"x":670,"y":294,"t":"chemical coordinate","a":-28}]
},
"layer":[
{"data":{"name":"floor"},"transform":[{"filter":"datum.s=='a0'||datum.s=='b0'"}],"mark":{"type":"line","stroke":null,"fill":"#49b8e6"},"encoding":{"order":{"value":null},"detail":{"field":"s"}}},
{"data":{"name":"floor"},"transform":[{"filter":"datum.s!='a0'&&datum.s!='b0'"}],"mark":{"type":"line","stroke":"#3d5f55","strokeWidth":0.6,"strokeOpacity":0.8,"interpolate":"cardinal-closed","tension":0.4},"encoding":{"order":{"value":null},"detail":{"field":"s"},"fill":{"field":"c","type":"nominal","legend":null,"scale":{"domain":["cyan","teal","green","yellow","amber","orange","redorange","red","blue","navy"],"range":["#49b8e6","#6ec7b0","#6cbd45","#fdea10","#fdb515","#f58220","#ee4a23","#e8281f","#3f8fd6","#2f5fb5"]}}}},
{"data":{"name":"mask"},"mark":{"type":"line","stroke":null,"fill":"white"},"encoding":{"order":{"value":null},"detail":{"field":"s"}}},
{"data":{"name":"axes"},"mark":{"type":"line","stroke":"#666666","strokeWidth":1.3},"encoding":{"order":{"value":null},"detail":{"field":"s"}}},
{"data":{"name":"edges"},"mark":{"type":"line","stroke":"#222222","strokeWidth":1.1},"encoding":{"order":{"value":null},"detail":{"field":"s"}}},
{"data":{"name":"heads"},"mark":{"type":"point","shape":"triangle-up","filled":true,"color":"#333333","size":35},"encoding":{"angle":{"field":"a","type":"quantitative","scale":null}}},
{"data":{"name":"surfA"},"mark":{"type":"line","stroke":null,"fill":{"gradient":"linear","x1":0.53,"y1":0,"x2":0.47,"y2":1,"stops":[{"offset":0,"color":"#d9201f"},{"offset":0.085,"color":"#e8281f"},{"offset":0.108,"color":"#ec4423"},{"offset":0.148,"color":"#f1692a"},{"offset":0.184,"color":"#f58220"},{"offset":0.242,"color":"#f9a51c"},{"offset":0.282,"color":"#fdc214"},{"offset":0.318,"color":"#fde40f"},{"offset":0.368,"color":"#f9ed14"},{"offset":0.381,"color":"#8fc73e"},{"offset":0.453,"color":"#76c044"},{"offset":0.534,"color":"#5cb947"},{"offset":0.578,"color":"#6cc07c"},{"offset":0.641,"color":"#66c4b4"},{"offset":0.7,"color":"#53bddb"},{"offset":0.789,"color":"#3fb0e4"},{"offset":0.879,"color":"#3a8fd6"},{"offset":1,"color":"#2e55ab"}]}},"encoding":{"order":{"value":null}}},
{"data":{"name":"surfB"},"mark":{"type":"line","stroke":null,"fill":{"gradient":"linear","x1":0.52,"y1":0,"x2":0.48,"y2":1,"stops":[{"offset":0,"color":"#d9201f"},{"offset":0.1,"color":"#e8281f"},{"offset":0.13,"color":"#ec4423"},{"offset":0.17,"color":"#f1692a"},{"offset":0.21,"color":"#f58220"},{"offset":0.27,"color":"#f9a51c"},{"offset":0.31,"color":"#fdc214"},{"offset":0.34,"color":"#fde40f"},{"offset":0.385,"color":"#f9ed14"},{"offset":0.4,"color":"#8fc73e"},{"offset":0.47,"color":"#76c044"},{"offset":0.55,"color":"#5cb947"},{"offset":0.6,"color":"#6cc07c"},{"offset":0.65,"color":"#66c4b4"},{"offset":0.72,"color":"#53bddb"},{"offset":0.79,"color":"#3fb0e4"},{"offset":0.87,"color":"#3a8fd6"},{"offset":1,"color":"#2e55ab"}]}},"encoding":{"order":{"value":null}}},
{"data":{"name":"patch"},"mark":{"type":"line","stroke":null,"fill":"#2f55ad"},"encoding":{"order":{"value":null},"detail":{"field":"s"}}},
{"data":{"name":"slices"},"mark":{"type":"line","stroke":"#222222","strokeWidth":1.05,"interpolate":"catmull-rom"},"encoding":{"order":{"value":null},"detail":{"field":"s"}}},
{"data":{"name":"dotsA"},"mark":{"type":"line","stroke":"#2c3f9c","strokeWidth":2,"strokeDash":[1.5,2]},"encoding":{"order":{"value":null},"detail":{"field":"s"}}},
{"data":{"name":"dotsB"},"mark":{"type":"line","stroke":"#3a5cb0","strokeWidth":1.1,"strokeDash":[2,1]},"encoding":{"order":{"value":null},"detail":{"field":"s"}}},
{"data":{"name":"rs"},"mark":{"type":"text","font":"Liberation Sans","fontSize":18,"fontWeight":"bold","align":"left","baseline":"middle","color":"#111111"},"encoding":{"text":{"field":"t"}}},
{"data":{"name":"subs"},"mark":{"type":"text","font":"Liberation Sans","fontSize":11,"align":"left","baseline":"middle","color":"#333333"},"encoding":{"text":{"field":"t"}}},
{"data":{"name":"titles"},"mark":{"type":"text","font":"Liberation Sans","fontSize":15,"fontWeight":"bold","align":"center","baseline":"middle","color":"#222222"},"encoding":{"text":{"field":"t"}}},
{"data":{"name":"panels"},"mark":{"type":"text","font":"Liberation Sans","fontSize":15,"align":"center","baseline":"middle","color":"#222222"},"encoding":{"text":{"field":"t"}}},
{"data":{"name":"axtext"},"mark":{"type":"text","font":"Liberation Sans","fontSize":15,"align":"center","baseline":"middle","color":"#222222"},"encoding":{"text":{"field":"t"},"angle":{"field":"a","type":"quantitative","scale":null}}}
]}
